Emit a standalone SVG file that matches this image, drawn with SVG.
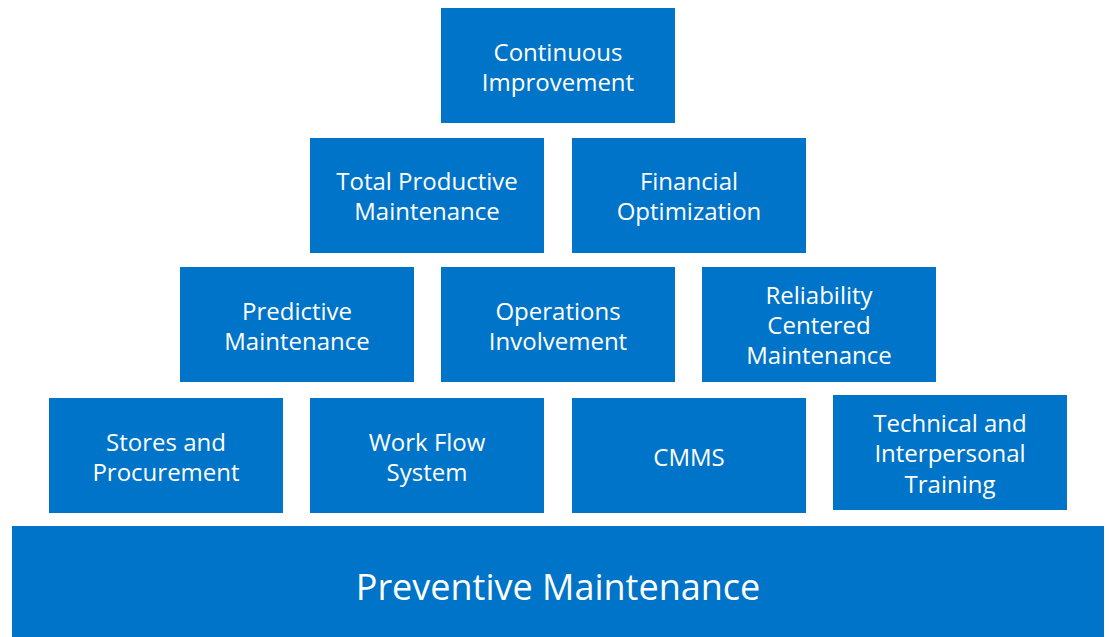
<svg xmlns="http://www.w3.org/2000/svg" width="1109" height="637" viewBox="0 0 1109 637">
  <style>
    .box { fill: #0074C8; }
    .lbl { fill: #FFFFFF; font-family: "Open Sans", "Liberation Sans", sans-serif; font-size: 24px; text-anchor: middle; }
    .base { font-size: 36px; }
  </style>
  <rect width="1109" height="637" fill="#FFFFFF"/>
  <g id="continuous-improvement">
    <rect class="box" x="441" y="8" width="234" height="115"/>
    <text class="lbl" x="558" y="61">Continuous</text>
    <text class="lbl" x="558" y="91">Improvement</text>
  </g>
  <g id="total-productive-maintenance">
    <rect class="box" x="310" y="138" width="234" height="115"/>
    <text class="lbl" x="427" y="190">Total Productive</text>
    <text class="lbl" x="427" y="220">Maintenance</text>
  </g>
  <g id="financial-optimization">
    <rect class="box" x="572" y="138" width="234" height="115"/>
    <text class="lbl" x="689" y="190">Financial</text>
    <text class="lbl" x="689" y="220">Optimization</text>
  </g>
  <g id="predictive-maintenance">
    <rect class="box" x="180" y="267" width="234" height="115"/>
    <text class="lbl" x="297" y="320">Predictive</text>
    <text class="lbl" x="297" y="350">Maintenance</text>
  </g>
  <g id="operations-involvement">
    <rect class="box" x="441" y="267" width="234" height="115"/>
    <text class="lbl" x="558" y="320">Operations</text>
    <text class="lbl" x="558" y="350">Involvement</text>
  </g>
  <g id="reliability-centered-maintenance">
    <rect class="box" x="702" y="267" width="234" height="115"/>
    <text class="lbl" x="819" y="304">Reliability</text>
    <text class="lbl" x="819" y="334">Centered</text>
    <text class="lbl" x="819" y="364">Maintenance</text>
  </g>
  <g id="stores-and-procurement">
    <rect class="box" x="49" y="398" width="234" height="115"/>
    <text class="lbl" x="166" y="451">Stores and</text>
    <text class="lbl" x="166" y="481">Procurement</text>
  </g>
  <g id="work-flow-system">
    <rect class="box" x="310" y="398" width="234" height="115"/>
    <text class="lbl" x="427" y="451">Work Flow</text>
    <text class="lbl" x="427" y="481">System</text>
  </g>
  <g id="cmms">
    <rect class="box" x="572" y="398" width="234" height="115"/>
    <text class="lbl" x="689" y="466">CMMS</text>
  </g>
  <g id="technical-interpersonal-training">
    <rect class="box" x="833" y="395" width="234" height="115"/>
    <text class="lbl" x="950" y="432">Technical and</text>
    <text class="lbl" x="950" y="462">Interpersonal</text>
    <text class="lbl" x="950" y="493">Training</text>
  </g>
  <g id="preventive-maintenance">
    <rect class="box" x="12" y="526" width="1092" height="111"/>
    <text class="lbl base" x="558" y="600">Preventive Maintenance</text>
  </g>
  <g id="connectors"/>
</svg>
